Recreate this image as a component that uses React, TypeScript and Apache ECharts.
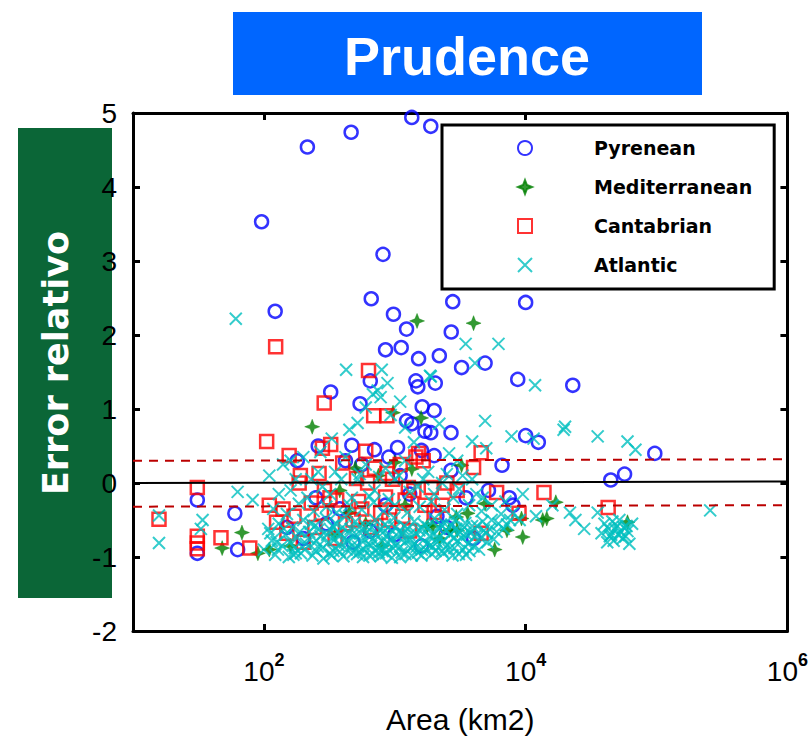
import React, { useEffect, useRef } from 'react';
import * as echarts from 'echarts';

// ---------- data ([area km2, relative error]) ----------
const seriesNames = ['Pyrenean', 'Mediterranean', 'Cantabrian', 'Atlantic'];

const pyrenean: number[][] = [
  [1349, 4.94], [1884, 4.82], [464, 4.74], [215, 4.54], [96, 3.53], [813, 3.09], [661, 2.49], [122, 2.32],
  [977, 2.28], [2773, 2.45], [10000, 2.44], [1230, 2.08], [850, 1.8], [1120, 1.83], [1520, 1.68], [2190, 1.72],
  [1450, 1.38], [1500, 1.3], [2040, 1.35], [324, 1.23], [543, 1.07], [1620, 1.03], [2000, 0.98], [1230, 0.84],
  [650, 1.38], [2700, 2.04], [3240, 1.56], [4900, 1.62], [8700, 1.4], [22900, 1.32], [1884, 0.68], [2690, 0.68],
  [10000, 0.64], [12500, 0.55], [97000, 0.4], [6600, 0.24], [44700, 0.04], [57000, 0.12], [2000, 0.37], [2690, 0.17],
  [31, -0.23], [31, -0.95], [60, -0.41], [63, -0.9], [470, 0.51], [1050, 0.48], [1350, 0.8], [1700, 0.7], [1600, 0.44],
  [420, 0.3], [560, 0.25], [700, 0.45], [900, 0.35], [1100, 0.1], [250, -0.2], [380, -0.35], [850, -0.3],
  [1300, -0.15], [2100, -0.45], [3500, -0.2], [5200, -0.1], [7500, -0.2], [150, -0.6], [200, -0.75], [300, -0.55],
  [480, -0.8], [650, -0.65], [1000, -0.7], [1600, -0.85], [2500, -0.6], [4000, -0.75], [8000, -0.3], [180, 0.3], [260, 0.5],
];

const mediterranean: number[][] = [
  [1480, 2.19], [4000, 2.16], [234, 0.76], [970, 0.95], [1590, 0.88], [500, 0.2], [1000, 0.28], [1350, 0.19],
  [68, -0.67], [48, -0.88], [1770, -0.58], [3240, 0.24], [2950, -0.46], [1950, -0.58], [3600, -0.41], [2600, -0.64],
  [4900, -0.28], [9300, -0.48], [14500, -0.48], [17000, -0.26], [60000, -0.53], [9500, -0.73], [7200, -0.64],
  [3000, -0.64], [13500, -0.5], [380, -0.1], [90, -0.95], [110, -0.9], [350, -0.7], [600, -0.55], [800, -0.85],
  [450, -0.4], [1200, -0.3], [2200, -0.75], [5800, -0.9], [160, -0.85], [750, 0.1],
];

const cantabrian: number[][] = [
  [123, 1.84], [289, 1.08], [630, 1.52], [690, 0.91], [870, 0.91], [105, 0.56], [156, 0.37], [31, -0.06],
  [15.8, -0.49], [31, -0.72], [31, -0.81], [31, -0.89], [47, -0.74], [78, -0.88], [324, 0.52], [280, 0.47],
  [600, 0.43], [264, 0.13], [400, 0.27], [870, 0.13], [1520, 0.4], [186, 0.0], [290, -0.1], [510, 0.06],
  [110, -0.3], [125, -0.53], [230, -0.27], [275, -0.41], [360, -0.23], [480, -0.5], [850, -0.19], [1200, -0.23],
  [150, -0.68], [660, -0.6], [1270, -0.06], [1650, 0.3], [4570, 0.41], [4000, 0.21], [6000, -0.13], [13800, -0.13],
  [42700, -0.33], [4570, -0.68], [8900, -0.41], [1900, -0.06], [1450, 0.35], [1100, 0.25], [700, 0.2], [2300, -0.3],
  [3000, -0.1], [200, -0.8], [350, -0.75], [900, -0.5], [1300, -0.65], [2000, -0.4], [560, -0.35],
  [170, -0.45], [245, -0.6], [320, -0.2], [420, -0.55], [530, -0.25], [620, 0.0], [780, -0.4], [960, 0.05],
  [1150, -0.45], [1400, -0.1], [1700, -0.3], [2500, 0.0], [190, 0.1], [140, -0.35],
];

const atlantic: number[][] = [
  [61, 2.22], [425, 1.53], [795, 1.53], [1860, 1.45], [680, 1.2], [780, 1.16], [520, 0.81], [740, 1.25],
  [3480, 1.88], [6200, 1.88], [4100, 1.62], [1884, 1.44], [11800, 1.32], [4900, 0.84], [2190, 0.8], [20000, 0.76],
  [19500, 0.72], [35500, 0.63], [60000, 0.56], [69000, 0.45], [7800, 0.63], [11500, 0.6], [3900, 0.56], [5000, 0.47],
  [600, 1.02], [930, 0.92], [450, 0.72], [330, 0.6], [1100, 1.1], [1400, 0.55], [2600, 0.4], [3000, 0.3],
  [880, 1.35], [1200, 0.75], [270, 0.42], [160, 0.3],
  [15.8, -0.44], [15.8, -0.81], [34, -0.5], [63, -0.12], [33, -0.62], [82, -0.23], [110, 0.1], [140, 0.25],
  [160, -0.1], [200, 0.35], [230, 0.05], [280, -0.05], [350, 0.15], [420, 0.35], [520, 0.05], [600, 0.25],
  [700, -0.1], [850, 0.2], [1000, 0.05], [1200, 0.3], [1500, -0.05], [1800, 0.15], [2300, 0.0], [2800, -0.2],
  [3300, 0.1], [4200, -0.15], [5500, -0.3], [7000, -0.25], [9500, -0.15], [257000, -0.37], [21800, -0.4],
  [28000, -0.62], [35500, -0.4], [24000, -0.5], [16000, -0.3], [12000, -0.45],
  [130, -0.15], [175, 0.05], [215, -0.2], [260, 0.15], [320, -0.15], [390, 0.05], [470, -0.2], [540, 0.12],
  [640, -0.18], [760, 0.08], [900, -0.22], [1080, 0.1], [1300, -0.12], [1650, 0.05], [2000, -0.15], [2500, 0.12],
  [3100, -0.08], [3900, 0.05], [4700, -0.2],
  [100, -0.9], [108, -0.62], [115, -0.78], [122, -0.97], [130, -0.55], [138, -0.85], [146, -0.7], [155, -1.0],
  [165, -0.6], [172, -0.88], [180, -0.74], [192, -0.95], [200, -0.5], [210, -0.82], [222, -0.66], [235, -0.98],
  [245, -0.58], [258, -0.86], [270, -0.72], [285, -1.02], [298, -0.48], [312, -0.8], [325, -0.64], [340, -0.92],
  [356, -0.55], [372, -0.84], [388, -0.7], [405, -0.99], [420, -0.45], [440, -0.78], [460, -0.62], [480, -0.94],
  [500, -0.52], [525, -0.86], [548, -0.68], [572, -1.0], [598, -0.58], [625, -0.82], [650, -0.72], [680, -0.96],
  [710, -0.5], [740, -0.88], [770, -0.64], [805, -0.92], [840, -0.56], [875, -0.8], [910, -0.7], [950, -1.01],
  [990, -0.47], [1030, -0.84], [1080, -0.66], [1130, -0.94], [1180, -0.58], [1230, -0.78], [1290, -0.7], [1350, -0.98],
  [1410, -0.52], [1470, -0.86], [1540, -0.64], [1610, -0.9], [1680, -0.56], [1760, -0.82], [1840, -0.72], [1920, -0.96],
  [2010, -0.48], [2100, -0.8], [2200, -0.62], [2300, -0.92], [2410, -0.55], [2520, -0.84], [2640, -0.7], [2760, -0.98],
  [2890, -0.5], [3020, -0.78], [3160, -0.66], [3310, -0.9], [3460, -0.54], [3620, -0.82], [3800, -0.68], [4000, -0.86],
  [4250, -0.58], [4500, -0.74], [4800, -0.64], [5100, -0.8], [5500, -0.5], [6000, -0.66], [6500, -0.42], [7200, -0.56],
  [8000, -0.4], [9000, -0.5],
  [112, -0.68], [128, -0.9], [142, -0.62], [158, -0.8], [168, -0.97], [188, -0.66], [205, -0.9], [218, -0.75],
  [228, -0.55], [252, -0.78], [265, -0.62], [280, -0.88], [305, -0.7], [318, -0.95], [335, -0.58], [348, -0.76],
  [365, -0.66], [380, -0.93], [398, -0.6], [415, -0.8], [448, -0.68], [470, -0.85], [492, -0.72], [515, -0.96],
  [535, -0.6], [560, -0.78], [585, -0.9], [612, -0.66], [640, -0.98], [668, -0.6], [695, -0.78], [725, -0.7],
  [755, -0.94], [790, -0.78], [822, -0.66], [858, -0.95], [892, -0.6], [930, -0.78], [970, -0.88], [1010, -0.6],
  [1055, -0.72], [1105, -0.86], [1155, -0.68], [1205, -0.96], [1260, -0.62], [1320, -0.76], [1380, -0.84], [1440, -0.68],
  [1505, -0.94], [1575, -0.74], [1645, -0.62], [1720, -0.9], [1800, -0.6], [1880, -0.84], [1960, -0.7], [2050, -0.92],
  [2150, -0.74], [2250, -0.56], [2360, -0.78], [2470, -0.64], [2580, -0.9], [2700, -0.58], [2820, -0.74], [2950, -0.62],
  [3090, -0.96], [3240, -0.74], [3390, -0.6], [3550, -0.7], [3720, -0.92], [3900, -0.58], [4100, -0.72], [4400, -0.9],
  [4700, -0.52], [5000, -0.68], [5300, -0.62], [5700, -0.76], [6200, -0.55], [6800, -0.62], [7600, -0.5],
  [40000, -0.55], [42000, -0.8], [45000, -0.7], [48000, -0.62], [50000, -0.58], [52000, -0.5], [55000, -0.75],
  [58000, -0.72], [60000, -0.65], [65000, -0.55], [38000, -0.68], [62000, -0.82],
  [43000, -0.62], [46000, -0.52], [47000, -0.78], [53000, -0.66], [56000, -0.6], [44000, -0.72], [51000, -0.7], [59000, -0.58],
  [118, -0.35], [150, -0.42], [185, -0.28], [240, -0.38], [300, -0.32], [360, -0.4], [450, -0.3], [560, -0.36],
  [690, -0.26], [820, -0.38], [1000, -0.3], [1250, -0.4], [1550, -0.32], [1900, -0.25], [2400, -0.36], [3000, -0.42],
  [3700, -0.3], [4600, -0.38],
  [125, -0.8], [175, -0.95], [250, -0.92], [330, -0.98], [430, -0.9], [540, -0.93], [660, -0.85], [780, -0.99],
  [900, -0.9], [1100, -1.0], [1320, -0.88], [1600, -0.98], [1950, -0.86], [2350, -0.95], [2850, -0.88], [3500, -0.97],
];

// reference lines
const zeroLine: number[][] = [[10, 0.0], [1000000, 0.02]];
const upperLine: number[][] = [[10, 0.3], [1000000, 0.32]];
const lowerLine: number[][] = [[10, -0.32], [1000000, -0.3]];

// axes
const xMin = 10;
const xMax = 1000000;
const yMin = -2;
const yMax = 5;
const yStep = 1;

const titleText = 'Prudence';
const yTitleText = 'Error relativo';
const xTitleText = 'Area (km2)';

const STAR = 'path://M5,0L6.4,3.6L10,5L6.4,6.4L5,10L3.6,6.4L0,5L3.6,3.6Z';
const CROSS = 'path://M0,0L10,10M10,0L0,10';

export default function App() {
  const ref = useRef<HTMLDivElement>(null);

  useEffect(() => {
    const chart = echarts.init(ref.current!, null, { renderer: 'svg' });
    const axisLineStyle = { color: '#000', width: 3 };
    const tick = { show: true, inside: true, length: 7, lineStyle: { color: '#000', width: 3 } };
    const xBase = {
      type: 'log' as const,
      logBase: 100,
      min: xMin,
      max: xMax,
      splitLine: { show: false },
      minorTick: { show: false },
      axisLine: { show: true, onZero: false, lineStyle: axisLineStyle },
      axisTick: tick,
    };
    const yBase = {
      type: 'value' as const,
      min: yMin,
      max: yMax,
      interval: yStep,
      splitLine: { show: false },
      axisLine: { show: true, onZero: false, lineStyle: axisLineStyle },
      axisTick: tick,
    };

    chart.setOption({
      animation: false,
      backgroundColor: '#fff',
      grid: { left: 133, top: 113, right: 21, bottom: 106, containLabel: false },
      graphic: [
        { type: 'rect', left: 233, top: 12, shape: { width: 469, height: 83 }, style: { fill: '#0066ff' } },
        {
          type: 'text', x: 467, y: 56,
          style: {
            text: titleText, fill: '#fff', font: 'bold 54px "Liberation Sans", Arial, sans-serif',
            align: 'center', verticalAlign: 'middle', textAlign: 'center', textVerticalAlign: 'middle',
          },
        },
        { type: 'rect', left: 18, top: 128, shape: { width: 94, height: 470 }, style: { fill: '#0b6637' } },
        {
          type: 'text', x: 56, y: 363, rotation: Math.PI / 2,
          style: {
            text: yTitleText, fill: '#fff', font: 'bold 35px "DejaVu Sans", sans-serif',
            align: 'center', verticalAlign: 'middle', textAlign: 'center', textVerticalAlign: 'middle',
          },
        },
      ],
      legend: {
        data: seriesNames,
        orient: 'vertical',
        left: 442,
        top: 125,
        backgroundColor: '#fff',
        borderColor: '#000',
        borderWidth: 3,
        borderRadius: 0,
        padding: [12, 22, 13, 75],
        itemGap: 17,
        itemWidth: 14,
        itemHeight: 14,
        selectedMode: false,
        textStyle: {
          fontFamily: '"DejaVu Sans", sans-serif', fontWeight: 'bold', fontSize: 19, color: '#000',
          lineHeight: 22, padding: [0, 0, 0, 57],
        },
      },
      xAxis: [
        {
          ...xBase,
          position: 'bottom',
          name: xTitleText,
          nameLocation: 'middle',
          nameGap: 73,
          nameTextStyle: { fontFamily: '"Liberation Sans", Arial, sans-serif', fontSize: 30, color: '#000' },
          axisLabel: {
            margin: 20,
            color: '#000',
            formatter: (v: number) => {
              const e = Math.round(Math.log10(v));
              if (e % 2 !== 0) return '';
              return `{b|10}{s|${e}}`;
            },
            rich: {
              b: { fontFamily: '"Liberation Sans", Arial, sans-serif', fontSize: 28, lineHeight: 40, color: '#000' },
              s: { fontFamily: '"Liberation Sans", Arial, sans-serif', fontSize: 18, lineHeight: 18, verticalAlign: 'top', color: '#000', fontWeight: 'bold' },
            },
          },
        },
        { ...xBase, position: 'top', axisLabel: { show: false } },
      ],
      yAxis: [
        {
          ...yBase,
          position: 'left',
          axisLabel: { margin: 16, color: '#000', fontSize: 28, fontFamily: '"Liberation Sans", Arial, sans-serif' },
        },
        { ...yBase, position: 'right', axisLabel: { show: false } },
      ],
      series: [
        {
          name: 'Pyrenean', type: 'scatter', data: pyrenean, symbol: 'circle', symbolSize: 13,
          itemStyle: { color: 'transparent', borderColor: '#0000ff', borderWidth: 2.5 },
        },
        {
          name: 'Mediterranean', type: 'scatter', data: mediterranean, symbol: STAR, symbolSize: 15,
          itemStyle: { color: '#007f00', borderColor: '#007f00', borderWidth: 0.5 },
        },
        {
          name: 'Cantabrian', type: 'scatter', data: cantabrian, symbol: 'rect', symbolSize: 13,
          itemStyle: { color: 'transparent', borderColor: '#ff0000', borderWidth: 2.5 },
        },
        {
          name: 'Atlantic', type: 'scatter', data: atlantic, symbol: CROSS, symbolSize: 12,
          itemStyle: { color: 'transparent', borderColor: '#00bfbf', borderWidth: 2 },
        },
        {
          name: 'zero', type: 'line', data: zeroLine, symbol: 'none', z: 5, silent: true,
          lineStyle: { color: '#000', width: 2 },
        },
        {
          name: 'upper', type: 'line', data: upperLine, symbol: 'none', z: 5, silent: true,
          lineStyle: { color: '#bb0000', width: 2, type: [9, 7] },
        },
        {
          name: 'lower', type: 'line', data: lowerLine, symbol: 'none', z: 5, silent: true,
          lineStyle: { color: '#bb0000', width: 2, type: [9, 7] },
        },
      ],
    });
    return () => chart.dispose();
  }, []);

  return (
    <div
      ref={ref}
      style={{ position: 'fixed', left: 0, top: 0, width: 811, height: 739, background: '#fff' }}
    />
  );
}
